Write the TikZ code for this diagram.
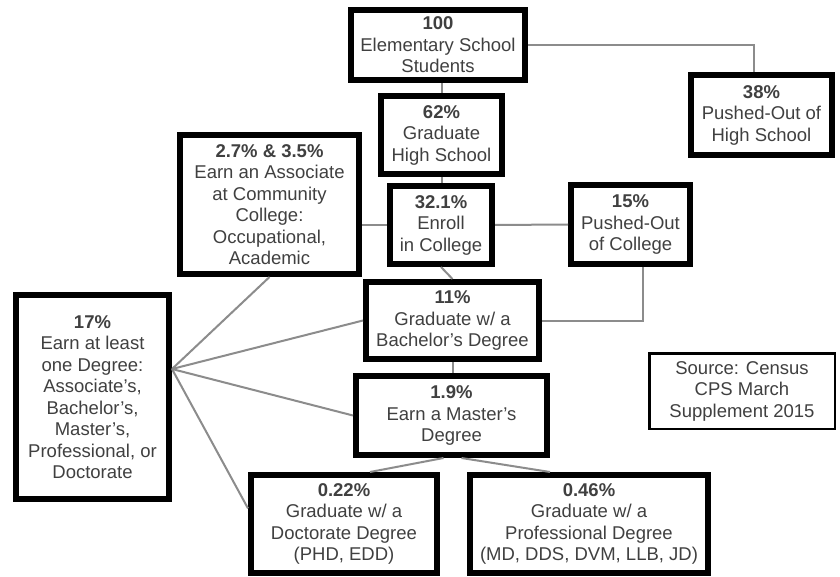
\documentclass[tikz,border=0pt]{standalone}
\usepackage{fontspec}
\setmainfont{Liberation Sans}
\usetikzlibrary{calc}

\begin{document}
\begin{tikzpicture}[
  x=1pt, y=-1pt,
  box/.style={draw, line width=6pt, align=center, inner sep=0pt,
              font=\fontsize{18.5}{21.5}\selectfont, text=black!75},
  boxsize/.style 2 args={minimum width=#1pt, minimum height=#2pt},
  note/.style={box, line width=2.5pt},
  link/.style={draw=black!45, line width=2pt}
]
\useasboundingbox[fill=white] (0,0) rectangle (840,577);

% Main chain
\node[box, boxsize={174}{70}] (elem) at (438,45)
  {\textbf{100}\\Elementary School\\Students};
\node[box, boxsize={121}{78}] (hs) at (441.5,135)
  {\textbf{62\%}\\Graduate\\High School};
\node[box, boxsize={102}{78}] (enroll) at (441,225)
  {\textbf{32.1\%}\\Enroll\\in College};
\node[box, boxsize={173}{77}] (bach) at (452.5,320.5)
  {\textbf{11\%}\\Graduate w/ a\\Bachelor's Degree};
\node[box, boxsize={191}{79}] (mast) at (451.5,415.5)
  {\textbf{1.9\%}\\Earn a Master's\\Degree};
\node[box, boxsize={186}{98}] (doct) at (344,524)
  {\textbf{0.22\%}\\Graduate w/ a\\Doctorate Degree\\(PHD, EDD)};
\node[box, boxsize={238}{98}] (prof) at (589,524)
  {\textbf{0.46\%}\\Graduate w/ a\\Professional Degree\\(MD, DDS, DVM, LLB, JD)};

% Side branches
\node[box, boxsize={141}{80}] (pushHS) at (761.5,115)
  {\textbf{38\%}\\Pushed-Out of\\High School};
\node[box, boxsize={119}{79}] (pushCol) at (630.5,224.5)
  {\textbf{15\%}\\Pushed-Out\\of College};
\node[box, boxsize={179}{139}] (assoc) at (269.5,204.5)
  {\textbf{2.7\% \& 3.5\%}\\Earn an Associate\\at Community\\College:\\Occupational,\\Academic};
\node[box, boxsize={153}{204}] (degree) at (92.5,397)
  {\textbf{17\%}\\Earn at least\\one Degree:\\Associate's,\\Bachelor's,\\Master's,\\Professional, or\\Doctorate};

\node[note, boxsize={185.5}{75.5}] (source) at (742,391)
  {Source: Census\\CPS March\\Supplement 2015};

% Connectors
\draw[link] (elem.east) -| ($(pushHS.north)+(-8,0)$);
\draw[link] (hs.north) -- (hs.north |- elem.south);
\draw[link] (hs.south) -- (hs.south |- enroll.north);
\draw[link] (enroll.west) -- (enroll.west -| assoc.east);
\draw[link] (enroll.east) -- (pushCol.west);
\draw[link] (enroll.south) -- (bach.north);
\draw[link] ($(pushCol.south)+(12.5,0)$) |- (bach.east);
\draw[link] (bach.south) -- (bach.south |- mast.north);
\draw[link] ($(mast.south)+(-8,0)$) -- ($(doct.north)+(26,0)$);
\draw[link] ($(mast.south)+(10,0)$) -- ($(prof.north)+(-39,0)$);

\coordinate (hub) at (degree.east |- 0,369);
\draw[link] (hub) -- (assoc.south);
\draw[link] (hub) -- (bach.west);
\draw[link] (hub) -- (mast.west);
\draw[link] (hub) -- ($(doct.north west)!0.35!(doct.south west)$);

\end{tikzpicture}
\end{document}
